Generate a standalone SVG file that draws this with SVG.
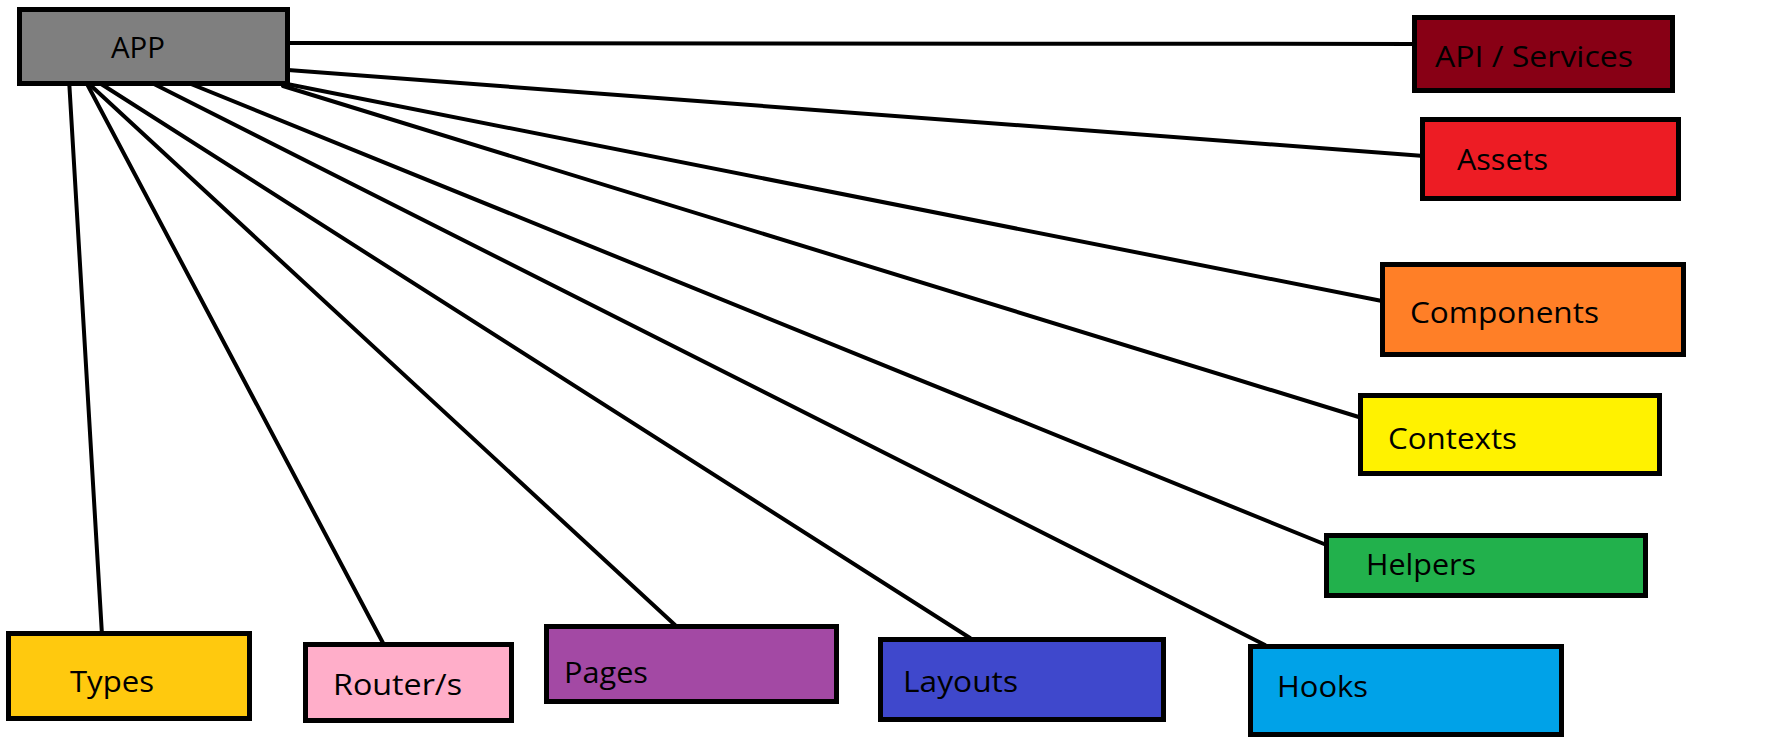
<svg xmlns="http://www.w3.org/2000/svg" width="1791" height="748" viewBox="0 0 1791 748">
<style>
.box{stroke:#000;stroke-width:5}
.lbl{font-family:"Open Sans","Noto Sans","Liberation Sans",sans-serif;font-size:30px;fill:#000}
.edge{stroke:#000;stroke-width:4;fill:none;stroke-linecap:round}
</style>
<rect width="1791" height="748" fill="#fff"/>
<g id="connectors">
<line class="edge" x1="288" y1="43" x2="1414" y2="44"/>
<line class="edge" x1="288" y1="70" x2="1424" y2="156"/>
<line class="edge" x1="287" y1="84" x2="1382" y2="301"/>
<line class="edge" x1="283" y1="86" x2="1362" y2="418"/>
<line class="edge" x1="186" y1="82" x2="1329" y2="546"/>
<line class="edge" x1="150" y1="82" x2="1265" y2="645"/>
<line class="edge" x1="98" y1="82" x2="970" y2="638"/>
<line class="edge" x1="87" y1="82" x2="675" y2="625"/>
<line class="edge" x1="86" y1="82" x2="383" y2="643"/>
<line class="edge" x1="69" y1="79" x2="102" y2="635"/>
</g>
<g id="app"><rect class="box" x="19.5" y="9.5" width="268" height="74" fill="#7f7f7f"/><text class="lbl" x="111" y="58" textLength="54" lengthAdjust="spacingAndGlyphs">APP</text></g>
<g id="api"><rect class="box" x="1414.5" y="17.5" width="258" height="73" fill="#880015"/><text class="lbl" x="1435" y="67" textLength="198" lengthAdjust="spacingAndGlyphs">API / Services</text></g>
<g id="assets"><rect class="box" x="1422.5" y="119.5" width="256" height="79" fill="#ed1c24"/><text class="lbl" x="1457" y="170" textLength="91" lengthAdjust="spacingAndGlyphs">Assets</text></g>
<g id="components"><rect class="box" x="1382.5" y="264.5" width="301" height="90" fill="#ff7f27"/><text class="lbl" x="1410" y="323" textLength="189" lengthAdjust="spacingAndGlyphs">Components</text></g>
<g id="contexts"><rect class="box" x="1360.5" y="395.5" width="299" height="78" fill="#fff200"/><text class="lbl" x="1388" y="449" textLength="129" lengthAdjust="spacingAndGlyphs">Contexts</text></g>
<g id="helpers"><rect class="box" x="1326.5" y="535.5" width="319" height="60" fill="#22b14c"/><text class="lbl" x="1366" y="575" textLength="110" lengthAdjust="spacingAndGlyphs">Helpers</text></g>
<g id="hooks"><rect class="box" x="1250.5" y="646.5" width="311" height="88" fill="#00a2e8"/><text class="lbl" x="1277" y="697" textLength="91" lengthAdjust="spacingAndGlyphs">Hooks</text></g>
<g id="layouts"><rect class="box" x="880.5" y="639.5" width="283" height="80" fill="#3f48cc"/><text class="lbl" x="903" y="692" textLength="115" lengthAdjust="spacingAndGlyphs">Layouts</text></g>
<g id="pages"><rect class="box" x="546.5" y="626.5" width="290" height="75" fill="#a349a4"/><text class="lbl" x="564" y="683" textLength="84" lengthAdjust="spacingAndGlyphs">Pages</text></g>
<g id="router"><rect class="box" x="305.5" y="644.5" width="206" height="76" fill="#ffaec9"/><text class="lbl" x="333" y="695" textLength="129" lengthAdjust="spacingAndGlyphs">Router/s</text></g>
<g id="types"><rect class="box" x="8.5" y="633.5" width="241" height="85" fill="#ffc90e"/><text class="lbl" x="70" y="692" textLength="84" lengthAdjust="spacingAndGlyphs">Types</text></g>
</svg>
